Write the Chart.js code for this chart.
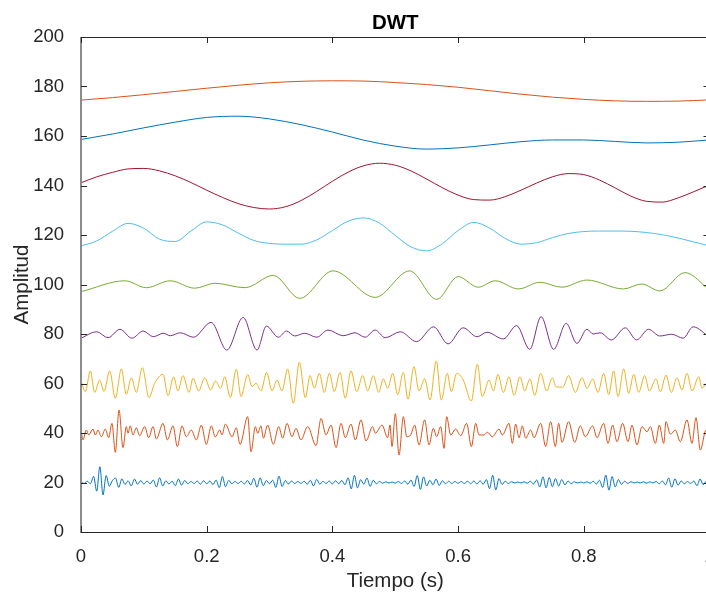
<!DOCTYPE html>
<html>
<head>
<meta charset="utf-8">
<script src="https://cdn.jsdelivr.net/npm/chart.js@4"></script>
<style>
  html, body { margin: 0; padding: 0; background: #fff; overflow: hidden; }
  #wrap { width: 720px; height: 592px; }
</style>
</head>
<body>
<div id="wrap"><canvas id="dwt" width="720" height="592"></canvas></div>
<script>
// Axis ticks
const xTicks = [0, 0.2, 0.4, 0.6, 0.8, 1];
const yTicks = [0, 20, 40, 60, 80, 100, 120, 140, 160, 180, 200];

const a9 = [174.5, 175.5, 176.7, 178.0, 179.3, 180.5, 181.5, 182.1, 182.3, 182.2, 181.6,
  180.8, 179.7, 178.3, 176.9, 175.7, 174.8, 174.2, 174.0, 174.1, 174.6];

const d8 = [158.6, 160.8, 163.3, 165.6, 167.5, 168.0, 166.9, 164.6, 161.6, 158.3, 155.9,
  154.7, 155.2, 156.4, 157.7, 158.4, 158.4, 157.8, 157.2, 157.5, 158.4];

const d7 = [141.1, 143.5, 145.3, 146.7, 146.9, 145.9, 143.9, 141.2, 138.1, 135.2, 132.7,
  131.1, 130.5, 131.4, 133.9, 137.6, 141.7, 145.4, 148.0, 149.0, 148.2, 145.9, 142.6,
  139.1, 136.1, 134.3, 134.1, 135.5, 138.1, 141.0, 143.5, 144.8, 144.4, 142.2, 139.0,
  135.7, 133.6, 133.3, 135.0, 137.5, 140.2];

const d6 = [115.6, 117.6, 121.5, 124.7, 122.7, 118.3, 117.4, 121.6, 125.3, 124.1, 120.8,
  117.8, 116.6, 116.3, 116.3, 118.0, 121.8, 125.6, 126.9, 124.8, 119.8, 115.2, 113.6,
  116.5, 121.8, 125.1, 122.8, 118.6, 116.3, 116.9, 118.9, 120.6, 121.4, 121.6, 121.6,
  121.5, 121.0, 120.1, 118.8, 117.2, 115.6];

const d5Time = [0, .07, .104, .142, .181, .213, .261, .306, .348, .401, .468, .523, .566,
  .6, .632, .659, .696, .73, .765, .805, .863, .892, .921, .961, 1];
const d5 = [97.1, 101.5, 98.7, 101.5, 98.5, 100.5, 98.7, 103.7, 94.4, 105.5, 94.8, 105.5,
  94.0, 103.2, 98.9, 101.5, 98.2, 100.9, 98.9, 101.8, 98.2, 100.2, 97.4, 104.8, 97.8];

const d4Time = [0, .025, .043, .062, .081, .099, .115, .131, .142, .158, .179, .207, .232,
  .258, .28, .295, .314, .327, .34, .356, .375, .393, .417, .436, .452, .468, .484, .508,
  .534, .561, .584, .608, .63, .646, .672, .693, .714, .732, .752, .772, .789, .805, .815,
  .826, .844, .866, .884, .903, .921, .94, .958, .974, 1];
const d4 = [78.3, 80.9, 78.5, 81.9, 78.3, 81.2, 78.9, 80.3, 79.3, 80.5, 78.7, 84.7, 73.5,
  86.7, 73.5, 83.2, 78.7, 81.2, 79.2, 80.3, 78.7, 81.6, 79.3, 80.5, 78.7, 81.6, 78.5, 80.9,
  76.9, 82.9, 76.0, 82.5, 78.9, 80.7, 78.0, 83.4, 73.8, 87.0, 73.8, 84.3, 76.2, 81.9, 80.0,
  80.5, 77.6, 82.5, 77.6, 81.9, 79.2, 79.9, 78.3, 82.9, 78.6];

const d3Time = [0, .0069, .0148, .0218, .0297, .0366, .0456, .0546, .0642, .0721, .0801,
  .088, .0976, .1082, .1172, .1305, .1384, .1474, .1543, .1623, .1718, .1782, .1873,
  .1968, .2064, .2137, .2223, .2286, .2376, .2471,
  .2546, .2652, .2721, .2784, .2864, .2954, .3039, .3119, .3198, .3289, .3378, .3474,
  .3569, .3644, .3712, .3792, .3871, .3951, .4030, .4121, .4205, .4296, .4387, .4482,
  .4562, .4651, .4737, .4810, .4880, .4960, .5039,
  .5128, .5203, .5298, .5378, .5469, .5553, .5653, .5733, .5828, .5892, .5978, .6083,
  .6210, .6306, .6385, .6492, .6561, .6635, .6720, .6810, .6890, .6985, .7060, .7144,
  .7219, .7314, .7410, .7499,
  .7558, .7664, .7759, .7865, .7971, .8051, .8141, .8226, .8316, .8396, .8476, .8544,
  .8635, .8714, .8794, .8874, .8969, .9043, .9149, .9218, .9308, .9393, .9483, .9562,
  .9642, .9722, .9828, .9881, .9944, 1];
const d3 = [61.1, 56.7, 65.1, 56.4, 61.4, 56.8, 65.1, 54.0, 65.9, 55.6, 62.3, 56.4, 66.4,
  54.3, 60.1, 63.7, 55.1, 62.7, 57.0, 63.2, 56.4, 62.1, 57.0, 62.3, 57.4, 61.0, 58.1, 62.7,
  54.3, 65.8,
  54.7, 63.7, 58.7, 60.1, 57.0, 64.5, 57.0, 61.4, 57.0, 65.9, 52.0, 68.6, 54.3, 63.2, 58.1,
  64.1, 56.4, 64.1, 56.7, 64.5, 54.0, 65.1, 56.7, 63.2, 57.0, 63.2, 56.4, 61.9, 58.1, 64.1,
  55.5,
  64.5, 53.7, 66.8, 57.0, 61.9, 53.3, 69.1, 53.3, 64.1, 56.7, 64.1, 61.4, 52.9, 67.8, 54.7,
  61.4, 57.0, 63.7, 56.4, 62.7, 55.2, 62.7, 57.0, 61.9, 55.2, 64.1, 57.0, 62.3,
  58.7, 58.5, 63.2, 56.4, 62.3, 58.1, 61.8, 56.4, 64.1, 55.6, 65.1, 54.7, 65.9, 56.0, 63.7,
  56.4, 63.2, 57.0, 61.9, 56.7, 63.4, 56.4, 62.3, 57.4, 64.1, 57.0, 62.7, 58.1, 60.1, 61.0];

const d2Time = [0, .0032, .0085, .0122, .0191, .0228, .0270, .0324, .0387, .0440, .0493,
  .0546, .0605, .0668, .0721, .0748, .0785, .0827, .0880, .0933, .1013, .1077, .1146,
  .1199, .1305, .1374, .1464, .1533, .1607, .1676, .1756, .1835, .1915, .1994, .2074,
  .2137, .2206, .2243, .2297, .2403, .2471,
  .2530, .2652, .2705, .2774, .2811, .2864, .2901, .2970, .3060, .3145, .3209, .3278,
  .3357, .3421, .3500, .3607, .3739, .3819, .3898, .3978, .4057, .4137, .4206, .4296,
  .4365, .4455, .4535, .4641, .4683, .4789, .4879, .4916, .4948, .5001,
  .5060, .5129, .5182, .5245, .5309, .5378, .5468, .5537, .5606, .5659, .5723, .5776,
  .5818, .5882, .5961, .6041, .6136, .6211, .6280, .6333, .6412, .6465, .6545, .6651,
  .6704, .6810, .6863, .6916, .6969, .7022, .7075, .7155, .7208, .7314, .7393, .7473,
  .7547, .7600, .7653, .7759, .7855, .7945, .8024, .8141, .8210, .8316, .8385, .8459,
  .8528, .8618, .8703, .8767, .8846, .8926, .9006, .9059, .9138, .9202, .9271, .9308,
  .9377, .9456, .9536, .9642, .9721, .9785, .9854, .9944, 1];
const d2 = [41.5, 37.2, 41.2, 39.2, 41.6, 39.2, 41.2, 38.5, 41.6, 38.1, 43.9, 32.2, 49.3,
  34.1, 42.6, 39.9, 42.9, 39.2, 42.1, 38.9, 42.6, 38.1, 42.6, 37.6, 43.9, 37.2, 42.9, 34.5,
  42.9, 38.5, 41.2, 37.2, 43.2, 35.4, 42.9, 38.4, 41.2, 39.2, 43.6, 38.5, 42.1,
  35.4, 46.6, 32.4, 42.6, 39.9, 42.9, 37.9, 43.2, 35.4, 42.6, 37.9, 43.9, 38.5, 41.9, 37.2,
  42.6, 34.9, 45.9, 39.2, 43.2, 34.1, 43.9, 38.1, 43.6, 37.2, 45.3, 36.8, 42.6, 39.9, 43.2,
  38.1, 43.2, 34.5, 47.8,
  31.1, 46.6, 38.5, 39.2, 43.2, 35.2, 45.3, 35.2, 41.9, 38.5, 42.6, 33.8, 46.6, 39.2, 41.6,
  38.9, 43.9, 34.5, 43.9, 39.2, 39.2, 40.3, 38.5, 41.6, 39.2, 43.9, 35.8, 43.6, 38.1, 42.9,
  37.9, 41.2, 38.1, 43.9, 34.5, 44.6,
  34.5, 43.9, 36.2, 44.6, 36.2, 42.9, 38.5, 42.9, 38.1, 43.9, 35.8, 43.2, 36.5, 43.9, 36.5,
  43.2, 35.2, 42.6, 40.5, 42.6, 35.8, 43.2, 35.8, 44.6, 39.5, 41.2, 36.5, 45.3, 35.8, 46.2,
  33.1, 41.2, 40.5];

const d1 = [
  20.3, 19.6, 20.5, 19.5, 22.5, 16.5, 26.4, 15.0, 22.8, 18.5,
  20.8, 21.8, 18.0, 21.5, 19.2, 20.7, 18.6, 21.4, 19.3, 20.8,
  19.4, 20.6, 19.5, 21.0, 18.2, 21.9, 18.6, 20.7, 19.4, 20.5,
  18.7, 21.4, 18.9, 20.8, 19.5, 20.4, 19.6, 20.6, 19.3, 20.7,
  19.5, 20.6, 19.2, 21.0, 17.9, 22.4, 18.3, 20.9, 19.5, 20.4,
  19.6, 20.5, 19.4, 20.8, 19.0, 21.7, 18.1, 21.9, 18.7, 20.8,
  19.5, 20.9, 18.0, 22.6, 18.4, 20.8, 19.4, 20.6, 19.6, 20.4,
  19.6, 20.5, 19.3, 20.9, 18.6, 21.3, 19.3, 20.5, 19.6, 20.6,
  19.4, 20.7, 19.5, 20.8, 19.1, 21.9, 17.4, 22.9, 17.8, 21.2,
  19.3, 21.8, 18.4, 20.9, 19.5, 20.4, 19.7, 20.3, 19.8, 20.2,
  19.7, 20.4, 19.6, 20.6, 19.3, 21.0, 18.4, 22.8, 17.2, 22.3,
  18.6, 20.9, 19.1, 21.4, 18.8, 20.7, 19.5, 20.5, 19.6, 20.4,
  19.7, 20.4, 19.6, 20.5, 19.5, 20.6, 19.4, 20.7, 19.3, 21.2,
  17.5, 22.9, 17.0, 21.6, 19.2, 20.5, 19.6, 20.3, 19.8, 20.2,
  19.8, 20.3, 19.7, 20.5, 19.4, 21.0, 18.2, 22.3, 17.8, 22.0,
  18.3, 21.6, 18.6, 21.2, 19.0, 20.6, 19.5, 20.3, 19.8, 20.2,
  19.8, 20.3, 19.7, 20.5, 19.4, 20.9, 18.0, 23.0, 16.9, 22.4,
  18.2, 21.2, 19.3, 20.5, 19.6, 20.3, 19.8, 20.2, 19.8, 20.3,
  19.7, 20.3, 19.8, 20.4, 19.5, 20.6, 19.1, 21.8, 18.1, 21.5,
  18.9, 20.6, 19.5, 20.4, 19.6, 20.6, 18.7, 21.4, 19.1, 20.6,
  19.6];

// MATLAB default line colours
const colors = ['#0072BD', '#D95319', '#EDB120', '#7E2F8E', '#77AC30', '#4DBEEE', '#A2142F', '#0072BD', '#D95319'];

function evenTime(n) {
  const t = [];
  for (let i = 0; i < n; i++) t.push(i / (n - 1));
  return t;
}
function pts(t, v) {
  return v.map((y, i) => ({ x: t[i], y: y }));
}

const series = [
  pts(evenTime(d1.length), d1),
  pts(d2Time, d2),
  pts(d3Time, d3),
  pts(d4Time, d4),
  pts(d5Time, d5),
  pts(evenTime(d6.length), d6),
  pts(evenTime(d7.length), d7),
  pts(evenTime(d8.length), d8),
  pts(evenTime(a9.length), a9)
];

const FONT = '"Liberation Sans", Arial, Helvetica, sans-serif';
Chart.defaults.font.family = FONT;
Chart.defaults.color = '#262626';

// frame, inward ticks and title, MATLAB style
const frame = {
  id: 'frame',
  afterDraw(chart) {
    const { ctx, chartArea: a, scales: { x, y } } = chart;
    ctx.save();
    ctx.fillStyle = '#262626';
    ctx.fillRect(a.left, a.top, a.right - a.left, 1);
    ctx.fillRect(a.left, a.bottom, a.right - a.left, 1);
    ctx.fillRect(a.right - 1, a.top, 1, a.bottom - a.top);
    ctx.fillStyle = '#8c8c8c';
    ctx.fillRect(a.left - 1, a.top, 2, a.bottom - a.top + 1);

    ctx.strokeStyle = '#262626';
    ctx.lineWidth = 1;
    ctx.beginPath();
    xTicks.forEach(v => {
      const px = Math.round(x.getPixelForValue(v)) + 0.5;
      ctx.moveTo(px, a.bottom); ctx.lineTo(px, a.bottom - 6);
      ctx.moveTo(px, a.top); ctx.lineTo(px, a.top + 6);
    });
    yTicks.forEach(v => {
      const py = Math.round(y.getPixelForValue(v)) + 0.5;
      ctx.moveTo(a.left, py); ctx.lineTo(a.left + 6, py);
      ctx.moveTo(a.right, py); ctx.lineTo(a.right - 6, py);
    });
    ctx.stroke();

    ctx.fillStyle = '#000';
    ctx.font = 'bold 20.5px ' + FONT;
    ctx.textAlign = 'center';
    ctx.textBaseline = 'alphabetic';
    ctx.fillText('DWT', (a.left + a.right) / 2, 29);
    ctx.restore();
  }
};

new Chart(document.getElementById('dwt'), {
  type: 'line',
  data: {
    datasets: series.map((d, i) => ({
      data: d,
      borderColor: colors[i],
      borderWidth: 1,
      pointRadius: 0,
      fill: false,
      cubicInterpolationMode: 'monotone'
    }))
  },
  options: {
    responsive: false,
    animation: false,
    devicePixelRatio: 1,
    layout: { padding: { left: 0, right: 10.5, top: 37, bottom: 0 } },
    plugins: { legend: { display: false }, tooltip: { enabled: false } },
    scales: {
      x: {
        type: 'linear',
        min: 0,
        max: 1,
        afterBuildTicks: s => { s.ticks = xTicks.map(v => ({ value: v })); },
        afterFit: s => { s.height = 60; s.paddingLeft = 0; s.paddingRight = 0; },
        grid: { display: false },
        border: { display: false },
        ticks: { padding: 6, maxRotation: 0, font: { size: 18.5 }, color: '#262626', callback: v => String(v) },
        title: { display: true, text: 'Tiempo (s)', font: { size: 20.5, lineHeight: 1 }, color: '#262626', padding: { top: 0, bottom: 0 } }
      },
      y: {
        min: 0,
        max: 200,
        afterBuildTicks: s => { s.ticks = yTicks.map(v => ({ value: v })); },
        afterFit: s => { s.width = 81; },
        grid: { display: false },
        border: { display: false },
        ticks: { padding: 9, font: { size: 18.5 }, color: '#262626' },
        title: { display: true, text: 'Amplitud', font: { size: 20.5, lineHeight: 1 }, color: '#262626', padding: { top: 12, bottom: 0 } }
      }
    }
  },
  plugins: [frame]
});
</script>
</body>
</html>
